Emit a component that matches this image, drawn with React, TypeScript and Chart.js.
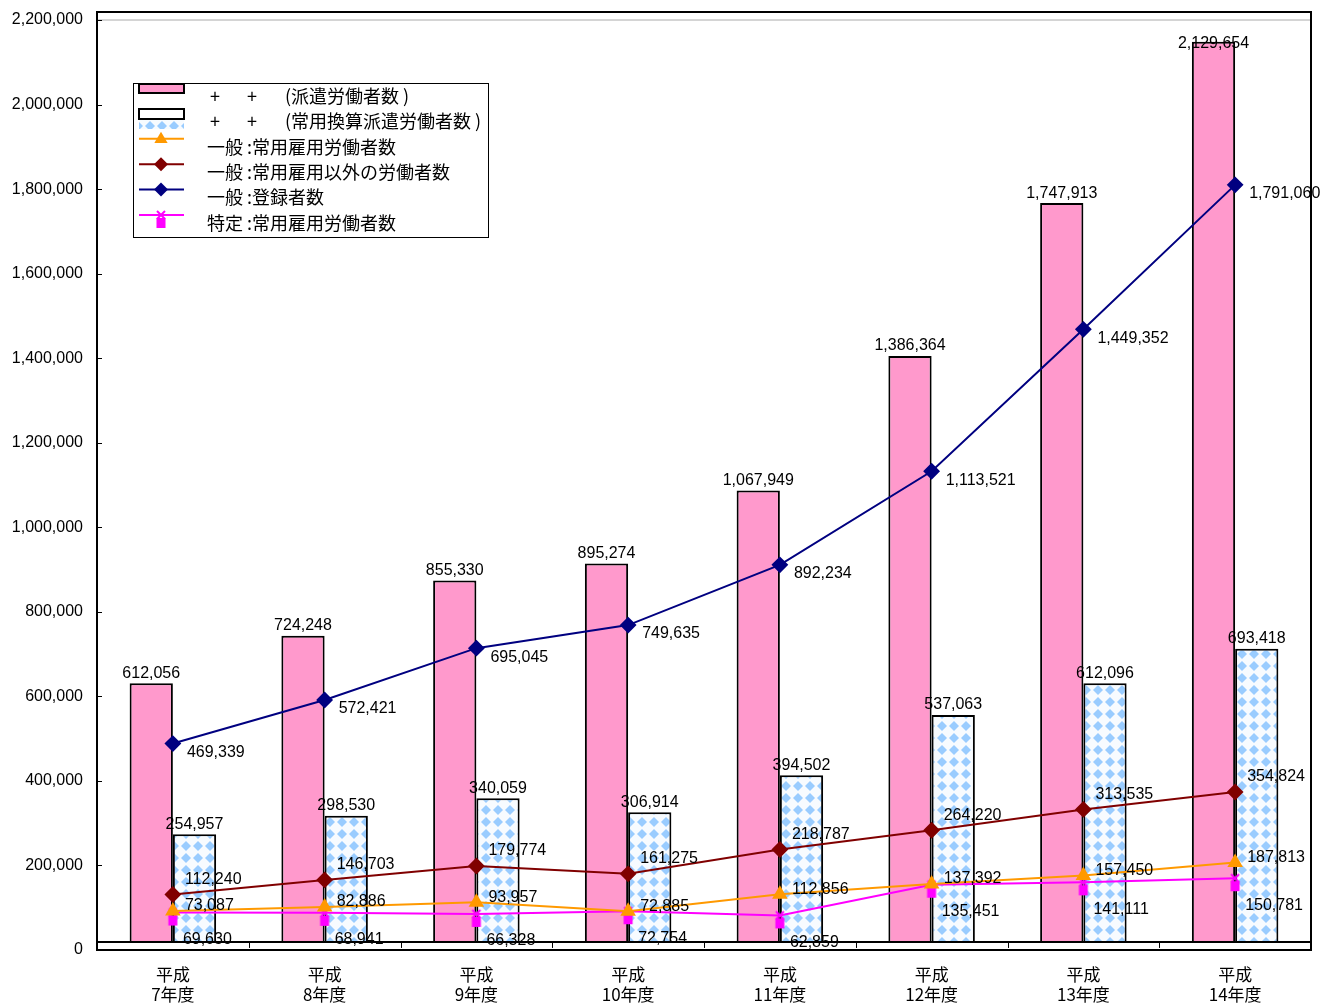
import React, { useEffect, useRef } from 'react';
import { Chart, registerables } from 'chart.js';

Chart.register(...registerables);

const CATEGORIES: string[][] = [
  ['平成', '7年度'], ['平成', '8年度'], ['平成', '9年度'], ['平成', '10年度'],
  ['平成', '11年度'], ['平成', '12年度'], ['平成', '13年度'], ['平成', '14年度'],
];
const DISPATCHED = [612056, 724248, 855330, 895274, 1067949, 1386364, 1747913, 2129654];
const FULLTIME_EQUIV = [254957, 298530, 340059, 306914, 394502, 537063, 612096, 693418];
const GEN_REGULAR = [73087, 82886, 93957, 72885, 112856, 137392, 157450, 187813];
const GEN_NONREGULAR = [112240, 146703, 179774, 161275, 218787, 264220, 313535, 354824];
const GEN_REGISTERED = [469339, 572421, 695045, 749635, 892234, 1113521, 1449352, 1791060];
const SPEC_REGULAR = [69630, 68941, 66328, 72754, 62859, 135451, 141111, 150781];
const Y_TICKS = [0, 200000, 400000, 600000, 800000, 1000000, 1200000, 1400000, 1600000, 1800000, 2000000, 2200000];

const LABEL_DISPATCHED = '(派遣労働者数 )';
const LABEL_EQUIV = '(常用換算派遣労働者数 )';
const LABEL_GEN_REGULAR = '一般 :常用雇用労働者数';
const LABEL_GEN_NONREGULAR = '一般 :常用雇用以外の労働者数';
const LABEL_GEN_REGISTERED = '一般 :登録者数';
const LABEL_SPEC_REGULAR = '特定 :常用雇用労働者数';

const PINK = '#FF99CC';
const LIGHTBLUE = '#99CCFF';
const ORANGE = '#FF9900';
const DARKRED = '#800000';
const NAVY = '#000080';
const MAGENTA = '#FF00FF';

const NUM_FONT = '16px "Liberation Sans", Arial, sans-serif';
const JP_FONT = '"Noto Sans CJK JP", "Noto Sans", sans-serif';

function makePattern(): CanvasPattern | string {
  const c = document.createElement('canvas');
  c.width = 12;
  c.height = 12;
  const g = c.getContext('2d');
  if (!g) return LIGHTBLUE;
  g.fillStyle = '#F7FBFF';
  g.fillRect(0, 0, 12, 12);
  g.fillStyle = LIGHTBLUE;
  g.beginPath();
  g.moveTo(6, 1);
  g.lineTo(11, 6);
  g.lineTo(6, 11);
  g.lineTo(1, 6);
  g.closePath();
  g.fill();
  const pat = g.createPattern(c, 'repeat');
  return pat || LIGHTBLUE;
}

function makeSpecMarker(): HTMLCanvasElement {
  const c = document.createElement('canvas');
  c.width = 16;
  c.height = 34;
  const g = c.getContext('2d');
  if (g) {
    g.strokeStyle = MAGENTA;
    g.lineWidth = 2;
    g.beginPath();
    g.moveTo(4, 13);
    g.lineTo(12, 21);
    g.moveTo(12, 13);
    g.lineTo(4, 21);
    g.stroke();
    g.fillStyle = MAGENTA;
    g.fillRect(3.5, 20, 9, 10);
  }
  return c;
}

function drawMarker(ctx: CanvasRenderingContext2D, style: any, x: number, y: number, r: number, color: string) {
  ctx.fillStyle = color;
  ctx.beginPath();
  if (style === 'triangle') {
    ctx.moveTo(x, y - r);
    ctx.lineTo(x + r * 0.95, y + r * 0.6);
    ctx.lineTo(x - r * 0.95, y + r * 0.6);
  } else if (style === 'rectRot') {
    ctx.moveTo(x, y - r);
    ctx.lineTo(x + r, y);
    ctx.lineTo(x, y + r);
    ctx.lineTo(x - r, y);
  }
  ctx.closePath();
  ctx.fill();
}

const framePlugin = {
  id: 'frameAndBaseline',
  afterDatasetsDraw(chart: any) {
    const { ctx, chartArea } = chart;
    const yData = chart.scales.y;
    const xScale = chart.scales.x;
    const yLab = chart.scales.yLab;
    ctx.save();
    ctx.strokeStyle = '#000';
    const y0 = yData.getPixelForValue(0);
    ctx.lineWidth = 2;
    ctx.beginPath();
    ctx.moveTo(chartArea.left, y0);
    ctx.lineTo(chartArea.right, y0);
    ctx.stroke();
    ctx.lineWidth = 1;
    const n = chart.data.labels.length;
    for (let i = 1; i < n; i++) {
      const xa = xScale.getPixelForValue(i - 1);
      const xb = xScale.getPixelForValue(i);
      const xm = Math.round((xa + xb) / 2) + 0.5;
      ctx.beginPath();
      ctx.moveTo(xm, y0);
      ctx.lineTo(xm, y0 + 6);
      ctx.stroke();
    }
    yLab.ticks.forEach((t: any) => {
      const yy = Math.round(yLab.getPixelForValue(t.value)) + 0.5;
      ctx.beginPath();
      ctx.moveTo(chartArea.left, yy);
      ctx.lineTo(chartArea.left + 5, yy);
      ctx.stroke();
    });
    ctx.lineWidth = 2;
    ctx.strokeRect(chartArea.left, chartArea.top, chartArea.right - chartArea.left, chartArea.bottom - chartArea.top);
    ctx.restore();
  },
};

const labelPlugin = {
  id: 'valueLabels',
  afterDatasetsDraw(chart: any) {
    const { ctx, chartArea } = chart;
    ctx.save();
    ctx.font = NUM_FONT;
    ctx.fillStyle = '#000';
    ctx.textBaseline = 'middle';
    chart.data.datasets.forEach((ds: any, i: number) => {
      const meta = chart.getDatasetMeta(i);
      const lab = ds.valueLabel;
      if (!lab) return;
      meta.data.forEach((el: any, j: number) => {
        const v = ds.data[j];
        const txt = Number(v).toLocaleString('en-US');
        const x = el.x + lab.dx;
        let y = el.y + lab.dy;
        if (lab.clampTop) y = Math.max(y, chartArea.top + 32);
        ctx.textAlign = lab.align;
        ctx.fillText(txt, x, y);
      });
    });
    ctx.restore();
  },
};

const legendPlugin = {
  id: 'boxLegend',
  afterDraw(chart: any) {
    const { ctx, chartArea } = chart;
    const L = chartArea.left + 36;
    const T = chartArea.top + 71;
    const W = 355;
    const H = 154;
    const ds = chart.data.datasets;
    ctx.save();
    ctx.fillStyle = '#fff';
    ctx.fillRect(L, T, W, H);
    ctx.strokeStyle = '#000';
    ctx.lineWidth = 1;
    ctx.strokeRect(L + 0.5, T + 0.5, W, H);
    ctx.font = '18px ' + JP_FONT;
    ctx.textBaseline = 'middle';
    ctx.textAlign = 'left';
    const rowY = (i: number) => T + 13 + i * 25.4;
    const bars = ds.filter((d: any) => d.type === 'bar');
    const lines = ds.filter((d: any) => d.type === 'line');
    const b0 = bars[0];
    ctx.fillStyle = b0.backgroundColor;
    ctx.fillRect(L + 6, T + 1, 45, 9);
    ctx.lineWidth = 2;
    ctx.strokeStyle = '#000';
    ctx.strokeRect(L + 6, T + 1, 45, 9);
    const b1 = bars[1];
    ctx.fillStyle = b1.backgroundColor;
    ctx.fillRect(L + 6, T + 26, 45, 20);
    ctx.fillStyle = '#fff';
    ctx.fillRect(L + 6, T + 26, 45, 10);
    ctx.strokeRect(L + 6, T + 26, 45, 10);
    ctx.fillStyle = '#000';
    [b0, b1].forEach((b: any, i: number) => {
      const y = rowY(i);
      ctx.fillText('+', L + 77, y);
      ctx.fillText('+', L + 114, y);
      ctx.fillText(b.label, L + 152, y);
    });
    lines.forEach((d: any, k: number) => {
      const i = k + 2;
      const ty = rowY(i);
      const sy = ty - 8;
      ctx.strokeStyle = d.borderColor;
      ctx.lineWidth = 2;
      ctx.beginPath();
      ctx.moveTo(L + 6, sy);
      ctx.lineTo(L + 51, sy);
      ctx.stroke();
      if (typeof d.pointStyle === 'string') {
        drawMarker(ctx, d.pointStyle, L + 28, sy, d.pointRadius, d.pointBackgroundColor);
      } else {
        const img = d.pointStyle as HTMLCanvasElement;
        ctx.drawImage(img, L + 28 - img.width / 2, sy - img.height / 2);
      }
      ctx.fillStyle = '#000';
      ctx.fillText(d.label, L + 74, ty);
    });
    ctx.restore();
  },
};

export default function App() {
  const canvasRef = useRef<HTMLCanvasElement | null>(null);

  useEffect(() => {
    const canvas = canvasRef.current;
    if (!canvas) return;
    const pattern = makePattern();
    const specMarker = makeSpecMarker();

    const lineCommon = {
      type: 'line' as const,
      yAxisID: 'y',
      tension: 0,
      borderWidth: 2,
      fill: false,
      order: 0,
    };

    const chart = new Chart(canvas, {
      type: 'bar',
      data: {
        labels: CATEGORIES,
        datasets: [
          {
            type: 'bar',
            label: LABEL_DISPATCHED,
            data: DISPATCHED,
            yAxisID: 'y',
            backgroundColor: PINK,
            borderColor: '#000',
            borderWidth: 2,
            categoryPercentage: 0.57,
            barPercentage: 1.0,
            order: 1,
            valueLabel: { dx: 0, dy: -10, align: 'center', clampTop: true },
          } as any,
          {
            type: 'bar',
            label: LABEL_EQUIV,
            data: FULLTIME_EQUIV,
            yAxisID: 'y',
            backgroundColor: pattern,
            borderColor: '#000',
            borderWidth: 2,
            categoryPercentage: 0.57,
            barPercentage: 1.0,
            order: 1,
            valueLabel: { dx: 0, dy: -10, align: 'center', clampTop: true },
          } as any,
          {
            ...lineCommon,
            label: LABEL_GEN_REGULAR,
            data: GEN_REGULAR,
            borderColor: ORANGE,
            pointStyle: 'triangle',
            pointRadius: 7,
            pointBackgroundColor: ORANGE,
            pointBorderColor: ORANGE,
            valueLabel: { dx: 12, dy: -5, align: 'left' },
          } as any,
          {
            ...lineCommon,
            label: LABEL_GEN_NONREGULAR,
            data: GEN_NONREGULAR,
            borderColor: DARKRED,
            pointStyle: 'rectRot',
            pointRadius: 7,
            pointBackgroundColor: DARKRED,
            pointBorderColor: DARKRED,
            valueLabel: { dx: 12, dy: -15, align: 'left' },
          } as any,
          {
            ...lineCommon,
            label: LABEL_GEN_REGISTERED,
            data: GEN_REGISTERED,
            borderColor: NAVY,
            pointStyle: 'rectRot',
            pointRadius: 7,
            pointBackgroundColor: NAVY,
            pointBorderColor: NAVY,
            valueLabel: { dx: 14, dy: 9, align: 'left' },
          } as any,
          {
            ...lineCommon,
            label: LABEL_SPEC_REGULAR,
            data: SPEC_REGULAR,
            borderColor: MAGENTA,
            pointStyle: specMarker,
            pointRadius: 8,
            pointBackgroundColor: MAGENTA,
            pointBorderColor: MAGENTA,
            valueLabel: { dx: 10, dy: 27, align: 'left' },
          } as any,
        ],
      },
      options: {
        responsive: false,
        animation: false,
        devicePixelRatio: 1,
        layout: { padding: { top: 12, right: 20, left: 0, bottom: 0 } },
        plugins: {
          legend: { display: false },
          tooltip: { enabled: false },
        },
        scales: {
          x: {
            type: 'category',
            offset: true,
            grid: { display: false, drawTicks: false },
            border: { display: false },
            ticks: {
              color: '#000',
              padding: 14,
              maxRotation: 0,
              autoSkip: false,
              font: { family: JP_FONT, size: 17, lineHeight: 1.2 },
            },
            afterFit: (s: any) => { s.height = 56; s.paddingLeft = 0; s.paddingRight = 0; },
          },
          yLab: {
            type: 'linear',
            position: 'left',
            min: 0,
            max: 2219000,
            afterBuildTicks: (s: any) => { s.ticks = Y_TICKS.map((v) => ({ value: v })); },
            afterFit: (s: any) => { s.width = 97; s.paddingTop = 0; s.paddingBottom = 0; },
            grid: {
              drawTicks: false,
              tickLength: 0,
              color: (c: any) => (c.tick && c.tick.value === Y_TICKS[Y_TICKS.length - 1] ? '#D4D4D4' : 'rgba(0,0,0,0)'),
              lineWidth: 2,
            },
            border: { display: false },
            ticks: {
              color: '#000',
              padding: 14,
              font: { family: '"Liberation Sans", Arial, sans-serif', size: 16 },
              callback: (v: any) => Number(v).toLocaleString('en-US'),
            },
          },
          y: {
            type: 'linear',
            display: false,
            min: -19000,
            max: 2200000,
          },
        },
      } as any,
      plugins: [framePlugin, labelPlugin, legendPlugin],
    });

    return () => chart.destroy();
  }, []);

  return (
    <div style={{ position: 'absolute', left: 0, top: 0, width: 1331, height: 1006, background: '#fff' }}>
      <canvas ref={canvasRef} width={1331} height={1006} style={{ display: 'block' }} />
    </div>
  );
}
